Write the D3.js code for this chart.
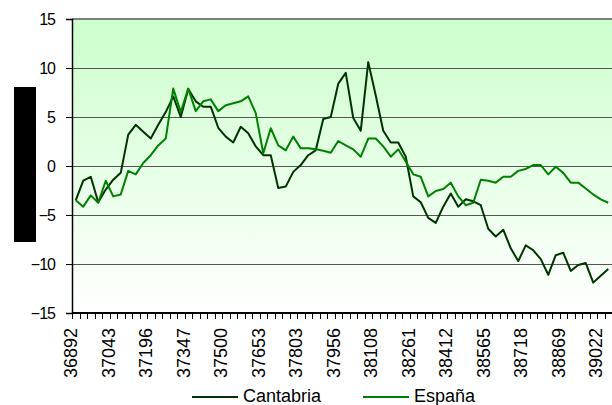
<!DOCTYPE html>
<html><head><meta charset="utf-8">
<script src="https://cdn.jsdelivr.net/npm/d3@7"></script>
<style>body{margin:0;background:#fff}svg{display:block}text{font-family:Arial,"Liberation Sans",sans-serif}</style>
</head><body><svg id="c" width="612" height="405"></svg>
<script>
const categories = [36892,36923,36951,36982,37012,37043,37073,37104,37135,37165,37196,37226,
37257,37288,37316,37347,37377,37408,37438,37469,37500,37530,37561,37591,
37622,37653,37681,37712,37742,37773,37803,37834,37865,37895,37926,37956,
37987,38018,38047,38078,38108,38139,38169,38200,38231,38261,38292,38322,
38353,38384,38412,38443,38473,38504,38534,38565,38596,38626,38657,38687,
38718,38749,38777,38808,38838,38869,38899,38930,38961,38991,39022,39052];
const cantabria = [-3.5,-1.5,-1.1,-3.7,-2.4,-1.4,-0.7,3.2,4.2,3.5,2.8,4.2,
5.5,7.1,5.0,7.85,6.6,6.05,6.05,3.9,3.0,2.4,4.0,3.35,
2.0,1.1,1.1,-2.25,-2.1,-0.6,0.1,1.1,1.6,4.8,5.0,8.4,
9.5,4.9,3.6,10.6,7.2,3.6,2.4,2.4,0.95,-3.1,-3.7,-5.3,
-5.8,-4.15,-2.8,-4.15,-3.4,-3.6,-4.0,-6.4,-7.2,-6.5,-8.4,-9.7,
-8.1,-8.6,-9.5,-11.1,-9.1,-8.85,-10.7,-10.1,-9.9,-11.9,-11.2,-10.5];
const espana = [-3.5,-4.15,-3.0,-3.75,-1.5,-3.1,-2.9,-0.5,-0.85,0.3,1.1,2.1,
2.8,7.9,5.5,7.9,5.6,6.6,6.8,5.6,6.2,6.4,6.6,7.1,
5.4,1.3,3.85,2.1,1.6,3.0,1.8,1.8,1.7,1.55,1.35,2.55,
2.1,1.7,0.95,2.8,2.8,2.0,0.95,1.7,0.45,-0.85,-1.1,-3.1,
-2.55,-2.35,-1.7,-3.1,-4.0,-3.75,-1.4,-1.5,-1.7,-1.1,-1.1,-0.5,
-0.3,0.1,0.1,-0.85,-0.07,-0.7,-1.7,-1.7,-2.3,-2.9,-3.4,-3.75];
const yTicks = [15,10,5,0,-5,-10,-15];
const seriesNames = ["Cantabria","España"];
const seriesColors = ["#003300","#008000"];

const svg = d3.select("#c");
const L = 72, R = 612, T = 19, B = 313;
const x = d3.scaleBand().domain(categories).range([L, R]);
const y = d3.scaleLinear().domain([-15, 15]).range([B, T]);

const defs = svg.append("defs");
const g = defs.append("linearGradient").attr("id","bg").attr("x1",0).attr("y1",0).attr("x2",0).attr("y2",1);
g.append("stop").attr("offset","0%").attr("stop-color","#ccffcc");
g.append("stop").attr("offset","100%").attr("stop-color","#ffffff");
svg.append("rect").attr("x",L).attr("y",T).attr("width",R-L).attr("height",B-T).attr("fill","url(#bg)");

// black box (y-axis title block)
svg.append("rect").attr("x",14).attr("y",87).attr("width",22).attr("height",155).attr("fill","#000");

// gridlines
svg.append("g").selectAll("line").data(yTicks.filter(d=>d>-15 && d<15)).join("line")
  .attr("x1",L).attr("x2",R).attr("y1",d=>Math.round(y(d))+0.5).attr("y2",d=>Math.round(y(d))+0.5)
  .attr("stroke","#555").attr("stroke-width",1);
svg.append("line").attr("x1",L).attr("x2",R).attr("y1",y(15)).attr("y2",y(15)).attr("stroke","#808080").attr("stroke-width",2);

// y axis
const ya = svg.append("g").attr("transform",`translate(${L},0)`)
  .call(d3.axisLeft(y).tickValues(yTicks).tickSize(6).tickPadding(11));
ya.select(".domain").attr("stroke","#000").attr("stroke-width",1.5);
ya.selectAll(".tick line").attr("stroke","#000");
ya.selectAll("text").attr("font-size","16px").attr("fill","#000").attr("letter-spacing","-1px")
  .attr("font-family","Arial, 'Liberation Sans', sans-serif");

// x axis
const tickVals = categories.filter((d,i)=>i%5===0);
const xa = svg.append("g").attr("transform",`translate(0,${B})`);
xa.append("line").attr("x1",L).attr("x2",R).attr("stroke","#000").attr("stroke-width",2);
xa.selectAll("line.tk").data(d3.range(categories.length+1)).join("line").attr("class","tk")
  .attr("x1",i=>Math.round(L + x.step()*i)+0.5).attr("x2",i=>Math.round(L + x.step()*i)+0.5)
  .attr("y1",0).attr("y2",6).attr("stroke","#000");
xa.selectAll("text").data(tickVals).join("text")
  .attr("transform",d=>`translate(${x(d)+x.bandwidth()/2-4.5+6},15) rotate(-90)`)
  .attr("text-anchor","end").attr("font-size","18px").attr("fill","#000")
  .text(d=>d);

// lines
const line = d3.line().x((d,i)=>x(categories[i])+x.bandwidth()/2).y(d=>y(d));
[cantabria, espana].forEach((s,k)=>{
  svg.append("path").datum(s).attr("d",line).attr("fill","none")
    .attr("stroke",seriesColors[k]).attr("stroke-width",2).attr("stroke-linejoin","round");
});

// legend
const legX = [192, 363];
seriesNames.forEach((n,k)=>{
  svg.append("line").attr("x1",legX[k]).attr("x2",legX[k]+46).attr("y1",397).attr("y2",397)
    .attr("stroke",seriesColors[k]).attr("stroke-width",2);
  svg.append("text").attr("x",legX[k]+51).attr("y",402).attr("font-size","18px").attr("fill","#000").text(n);
});
</script></body></html>
